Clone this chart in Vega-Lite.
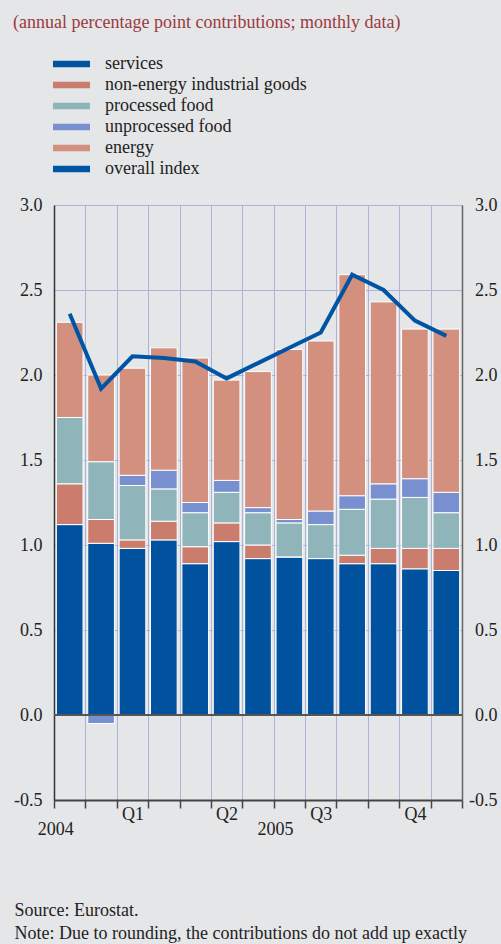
{
  "$schema": "https://vega.github.io/schema/vega-lite/v6.json",
  "width": 408,
  "height": 595,
  "autosize": {"type": "none"},
  "padding": {"left": 54, "top": 205, "right": 39, "bottom": 144},
  "background": "#e5e6e8",
  "title": {
    "text": "(annual percentage point contributions; monthly data)",
    "anchor": "start",
    "frame": "group",
    "dx": -41,
    "offset": 9,
    "baseline": "alphabetic",
    "font": "Liberation Serif",
    "fontSize": 18,
    "fontWeight": "normal",
    "color": "#9a3a40"
  },
  "datasets": {
    "contrib": [
      {"month": "2004-12", "component": "services", "value": 1.12},
      {"month": "2004-12", "component": "non-energy industrial goods", "value": 0.24},
      {"month": "2004-12", "component": "processed food", "value": 0.39},
      {"month": "2004-12", "component": "unprocessed food", "value": 0.0},
      {"month": "2004-12", "component": "energy", "value": 0.56},
      {"month": "2005-01", "component": "services", "value": 1.01},
      {"month": "2005-01", "component": "non-energy industrial goods", "value": 0.14},
      {"month": "2005-01", "component": "processed food", "value": 0.34},
      {"month": "2005-01", "component": "unprocessed food", "value": -0.05},
      {"month": "2005-01", "component": "energy", "value": 0.51},
      {"month": "2005-02", "component": "services", "value": 0.98},
      {"month": "2005-02", "component": "non-energy industrial goods", "value": 0.05},
      {"month": "2005-02", "component": "processed food", "value": 0.32},
      {"month": "2005-02", "component": "unprocessed food", "value": 0.06},
      {"month": "2005-02", "component": "energy", "value": 0.63},
      {"month": "2005-03", "component": "services", "value": 1.03},
      {"month": "2005-03", "component": "non-energy industrial goods", "value": 0.11},
      {"month": "2005-03", "component": "processed food", "value": 0.19},
      {"month": "2005-03", "component": "unprocessed food", "value": 0.11},
      {"month": "2005-03", "component": "energy", "value": 0.72},
      {"month": "2005-04", "component": "services", "value": 0.89},
      {"month": "2005-04", "component": "non-energy industrial goods", "value": 0.10},
      {"month": "2005-04", "component": "processed food", "value": 0.20},
      {"month": "2005-04", "component": "unprocessed food", "value": 0.06},
      {"month": "2005-04", "component": "energy", "value": 0.85},
      {"month": "2005-05", "component": "services", "value": 1.02},
      {"month": "2005-05", "component": "non-energy industrial goods", "value": 0.11},
      {"month": "2005-05", "component": "processed food", "value": 0.18},
      {"month": "2005-05", "component": "unprocessed food", "value": 0.07},
      {"month": "2005-05", "component": "energy", "value": 0.59},
      {"month": "2005-06", "component": "services", "value": 0.92},
      {"month": "2005-06", "component": "non-energy industrial goods", "value": 0.08},
      {"month": "2005-06", "component": "processed food", "value": 0.19},
      {"month": "2005-06", "component": "unprocessed food", "value": 0.03},
      {"month": "2005-06", "component": "energy", "value": 0.80},
      {"month": "2005-07", "component": "services", "value": 0.93},
      {"month": "2005-07", "component": "non-energy industrial goods", "value": 0.0},
      {"month": "2005-07", "component": "processed food", "value": 0.20},
      {"month": "2005-07", "component": "unprocessed food", "value": 0.02},
      {"month": "2005-07", "component": "energy", "value": 1.00},
      {"month": "2005-08", "component": "services", "value": 0.92},
      {"month": "2005-08", "component": "non-energy industrial goods", "value": -0.01},
      {"month": "2005-08", "component": "processed food", "value": 0.20},
      {"month": "2005-08", "component": "unprocessed food", "value": 0.08},
      {"month": "2005-08", "component": "energy", "value": 1.00},
      {"month": "2005-09", "component": "services", "value": 0.89},
      {"month": "2005-09", "component": "non-energy industrial goods", "value": 0.05},
      {"month": "2005-09", "component": "processed food", "value": 0.27},
      {"month": "2005-09", "component": "unprocessed food", "value": 0.08},
      {"month": "2005-09", "component": "energy", "value": 1.30},
      {"month": "2005-10", "component": "services", "value": 0.89},
      {"month": "2005-10", "component": "non-energy industrial goods", "value": 0.09},
      {"month": "2005-10", "component": "processed food", "value": 0.29},
      {"month": "2005-10", "component": "unprocessed food", "value": 0.09},
      {"month": "2005-10", "component": "energy", "value": 1.07},
      {"month": "2005-11", "component": "services", "value": 0.86},
      {"month": "2005-11", "component": "non-energy industrial goods", "value": 0.12},
      {"month": "2005-11", "component": "processed food", "value": 0.30},
      {"month": "2005-11", "component": "unprocessed food", "value": 0.11},
      {"month": "2005-11", "component": "energy", "value": 0.88},
      {"month": "2005-12", "component": "services", "value": 0.85},
      {"month": "2005-12", "component": "non-energy industrial goods", "value": 0.13},
      {"month": "2005-12", "component": "processed food", "value": 0.21},
      {"month": "2005-12", "component": "unprocessed food", "value": 0.12},
      {"month": "2005-12", "component": "energy", "value": 0.96}
    ],
    "overall": [
      {"month": "2004-12", "overall": 2.36},
      {"month": "2005-01", "overall": 1.92},
      {"month": "2005-02", "overall": 2.11},
      {"month": "2005-03", "overall": 2.10},
      {"month": "2005-04", "overall": 2.08},
      {"month": "2005-05", "overall": 1.98},
      {"month": "2005-06", "overall": 2.07},
      {"month": "2005-07", "overall": 2.16},
      {"month": "2005-08", "overall": 2.25},
      {"month": "2005-09", "overall": 2.59},
      {"month": "2005-10", "overall": 2.50},
      {"month": "2005-11", "overall": 2.32},
      {"month": "2005-12", "overall": 2.23}
    ]
  },
  "layer": [
    {
      "data": {"name": "contrib"},
      "transform": [
        {"calculate": "indexof(['services','non-energy industrial goods','processed food','unprocessed food','energy'], datum.component)", "as": "rank"}
      ],
      "mark": {"type": "bar", "width": {"band": 0.85}, "stroke": "white", "strokeWidth": 1},
      "encoding": {
        "x": {
          "field": "month",
          "type": "ordinal",
          "scale": {"paddingInner": 0, "paddingOuter": 0},
          "axis": {
            "orient": "bottom",
            "title": null,
            "tickBand": "extent",
            "labelAngle": 0,
            "labelExpr": "datum.value == '2005-02' ? 'Q1' : datum.value == '2005-05' ? 'Q2' : datum.value == '2005-08' ? 'Q3' : datum.value == '2005-11' ? 'Q4' : ''",
            "grid": true,
            "gridColor": "#aab3da",
            "gridWidth": 1,
            "ticks": true,
            "tickSize": 8,
            "tickColor": "#444444",
            "tickWidth": 1.5,
            "domainColor": "#444444",
            "domainWidth": 2,
            "labelPadding": -3
          }
        },
        "y": {
          "field": "value",
          "type": "quantitative",
          "stack": "zero",
          "scale": {"domain": [-0.5, 3], "nice": false, "zero": false},
          "axis": {
            "orient": "left",
            "title": null,
            "values": [-0.5, 0, 0.5, 1, 1.5, 2, 2.5, 3],
            "format": ".1f",
            "labelExpr": "replace(datum.label, '\u2212', '-')",
            "grid": true,
            "gridColor": "#aab3da",
            "gridWidth": 1,
            "ticks": false,
            "domainColor": "#333333",
            "domainWidth": 1.5,
            "labelPadding": 12
          }
        },
        "color": {
          "field": "component",
          "type": "nominal",
          "scale": {
            "domain": ["services", "non-energy industrial goods", "processed food", "unprocessed food", "energy", "overall index"],
            "range": ["#00519e", "#cb7d6d", "#8fb4b9", "#7890cf", "#d3907e", "#0054a4"]
          },
          "legend": {
            "orient": "none",
            "legendX": 8.5,
            "legendY": -150,
            "title": null,
            "padding": 0,
            "symbolType": "M-3.7,-0.65H3.7V0.65H-3.7Z",
            "symbolSize": 100,
            "symbolStrokeWidth": 0,
            "symbolOpacity": 1,
            "labelOffset": 24.5,
            "labelFont": "Liberation Serif",
            "labelFontSize": 18,
            "labelColor": "#222222",
            "labelLimit": 400,
            "rowPadding": 3
          }
        },
        "order": {"field": "rank", "type": "quantitative"}
      }
    },
    {
      "data": {"name": "overall"},
      "mark": {"type": "rule", "color": "#555555", "strokeWidth": 2},
      "encoding": {
        "y": {"datum": 0, "type": "quantitative", "axis": null}
      }
    },
    {
      "data": {"name": "overall"},
      "mark": {"type": "line", "color": "#0054a4", "strokeWidth": 4},
      "encoding": {
        "x": {
          "field": "month",
          "type": "ordinal",
          "axis": {
            "orient": "bottom",
            "ticks": false,
            "grid": false,
            "domain": false,
            "labelAngle": 0,
            "labelAlign": "right",
            "labelOffset": 4,
            "labelPadding": 20,
            "labelExpr": "datum.value == '2004-12' ? '2004' : datum.value == '2005-07' ? '2005' : ''",
            "title": ["Source: Eurostat.", "Note: Due to rounding, the contributions do not add up exactly"],
            "titleX": -40,
            "titleY": 115,
            "titleAlign": "left",
            "titleAnchor": "start",
            "titleBaseline": "alphabetic",
            "titleLineHeight": 23,
            "titleFont": "Liberation Serif",
            "titleFontSize": 18,
            "titleFontWeight": "normal",
            "titleColor": "#222222"
          }
        },
        "y": {
          "field": "overall",
          "type": "quantitative",
          "axis": {
            "orient": "right",
            "title": null,
            "values": [-0.5, 0, 0.5, 1, 1.5, 2, 2.5, 3],
            "format": ".1f",
            "labelExpr": "replace(datum.label, '\u2212', '-')",
            "labelAlign": "right",
            "grid": false,
            "ticks": false,
            "domainColor": "#666666",
            "domainWidth": 1.5,
            "labelPadding": 35
          }
        }
      }
    }
  ],
  "resolve": {"axis": {"x": "independent", "y": "independent"}},
  "config": {
    "view": {"stroke": null},
    "axis": {
      "labelFont": "Liberation Serif",
      "labelFontSize": 18,
      "labelColor": "#222222"
    }
  }
}
